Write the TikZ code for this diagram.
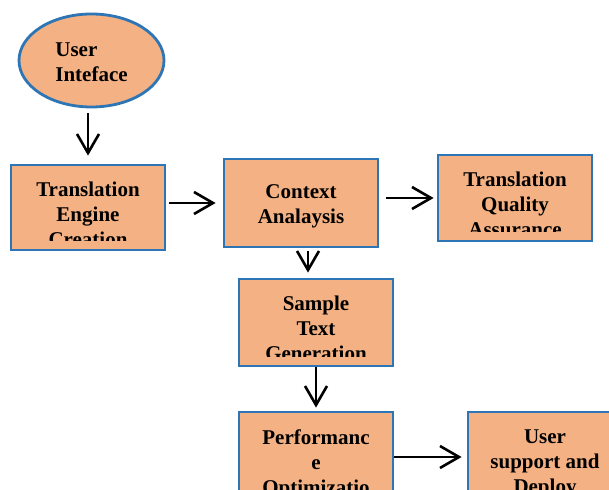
\documentclass[tikz,border=0pt]{standalone}
\usepackage{fontspec}
\setmainfont{Liberation Serif}
\usetikzlibrary{shapes.geometric, arrows.meta}
\definecolor{boxorange}{HTML}{F4B183}
\definecolor{boxblue}{HTML}{2E75B6}
\newcommand{\flowfont}{\fontsize{10.5}{12.5}\selectfont\bfseries}
\tikzset{
    flownode/.style={
        rectangle,
        draw=boxblue, % 边框颜色为蓝色
        fill=boxorange, % 填充颜色为橙色
        line width=1.4pt, % 边框加粗
        minimum width=77pt,
        minimum height=43pt,
        inner sep=0,
        align=center,
        font=\flowfont
    },
    startnode/.style={
        ellipse,
        draw=boxblue, % 边框颜色为蓝色
        fill=boxorange, % 填充颜色为橙色
        line width=1.4pt, % 边框加粗
        minimum width=72.5pt,
        minimum height=46.5pt,
        inner sep=0,
        align=left,
        font=\flowfont
    },
    cliptext/.style={
        path picture={
            % 文字超出框的部分被裁掉
            \clip ([shift={(2pt,-2pt)}]path picture bounding box.north west)
                rectangle ([shift={(-2pt,4.5pt)}]path picture bounding box.south east);
            \node[anchor=north, align=center, inner sep=0, draw=none, fill=none,
                  minimum width=0pt, minimum height=0pt, font=\flowfont]
                at ([yshift=-8pt]path picture bounding box.north) {#1};
        }
    },
    flowarrow/.style={
        -{Straight Barb[length=9.5pt,width=11pt]},
        line width=1.3pt
    }
}

\begin{document}
\begin{tikzpicture}[x=0.5pt, y=-0.5pt]
    \useasboundingbox (0,0) rectangle (609,490);
    % 流程图节点
    \node[startnode, text height=21.6pt] (ui) at (91.5,60.5) {User\\Inteface};
    \node[flownode, minimum height=42.5pt, cliptext={Translation\\Engine\\Creation}] (engine) at (88,207.5) {};
    \node[flownode, minimum height=44pt, text height=22.4pt] (context) at (301,203) {Context\\Analaysis};
    \node[flownode, cliptext={Translation\\Quality\\Assurance}] (quality) at (515,198) {};
    \node[flownode, minimum height=43.5pt, cliptext={Sample\\Text\\Generation}] (sample) at (316,322.5) {};
    \node[flownode, minimum height=45pt, cliptext={Performanc\\e\\Optimizatio}] (perf) at (316,457) {};
    \node[flownode, minimum height=45pt, cliptext={User\\support and\\Deploy}] (support) at (545,457) {};
    % 箭头
    \draw[flowarrow, shorten <=2.5pt, shorten >=4pt] (engine.north |- ui.south) -- (engine.north);
    \draw[flowarrow, shorten <=1.5pt, shorten >=3.5pt] (context.west -| engine.east) -- (context.west);
    \draw[flowarrow, shorten <=3.5pt, shorten >=1.5pt] (quality.west -| context.east) -- (quality.west);
    \draw[flowarrow, shorten <=1.5pt, shorten >=2.5pt] ([xshift=3.5pt]context.south) -- ([xshift=3.5pt]context.south |- sample.north);
    \draw[flowarrow, shorten >=1.5pt] (sample.south) -- (perf.north);
    \draw[flowarrow, shorten >=2.5pt] (perf.east) -- (support.west);
\end{tikzpicture}
\end{document}
